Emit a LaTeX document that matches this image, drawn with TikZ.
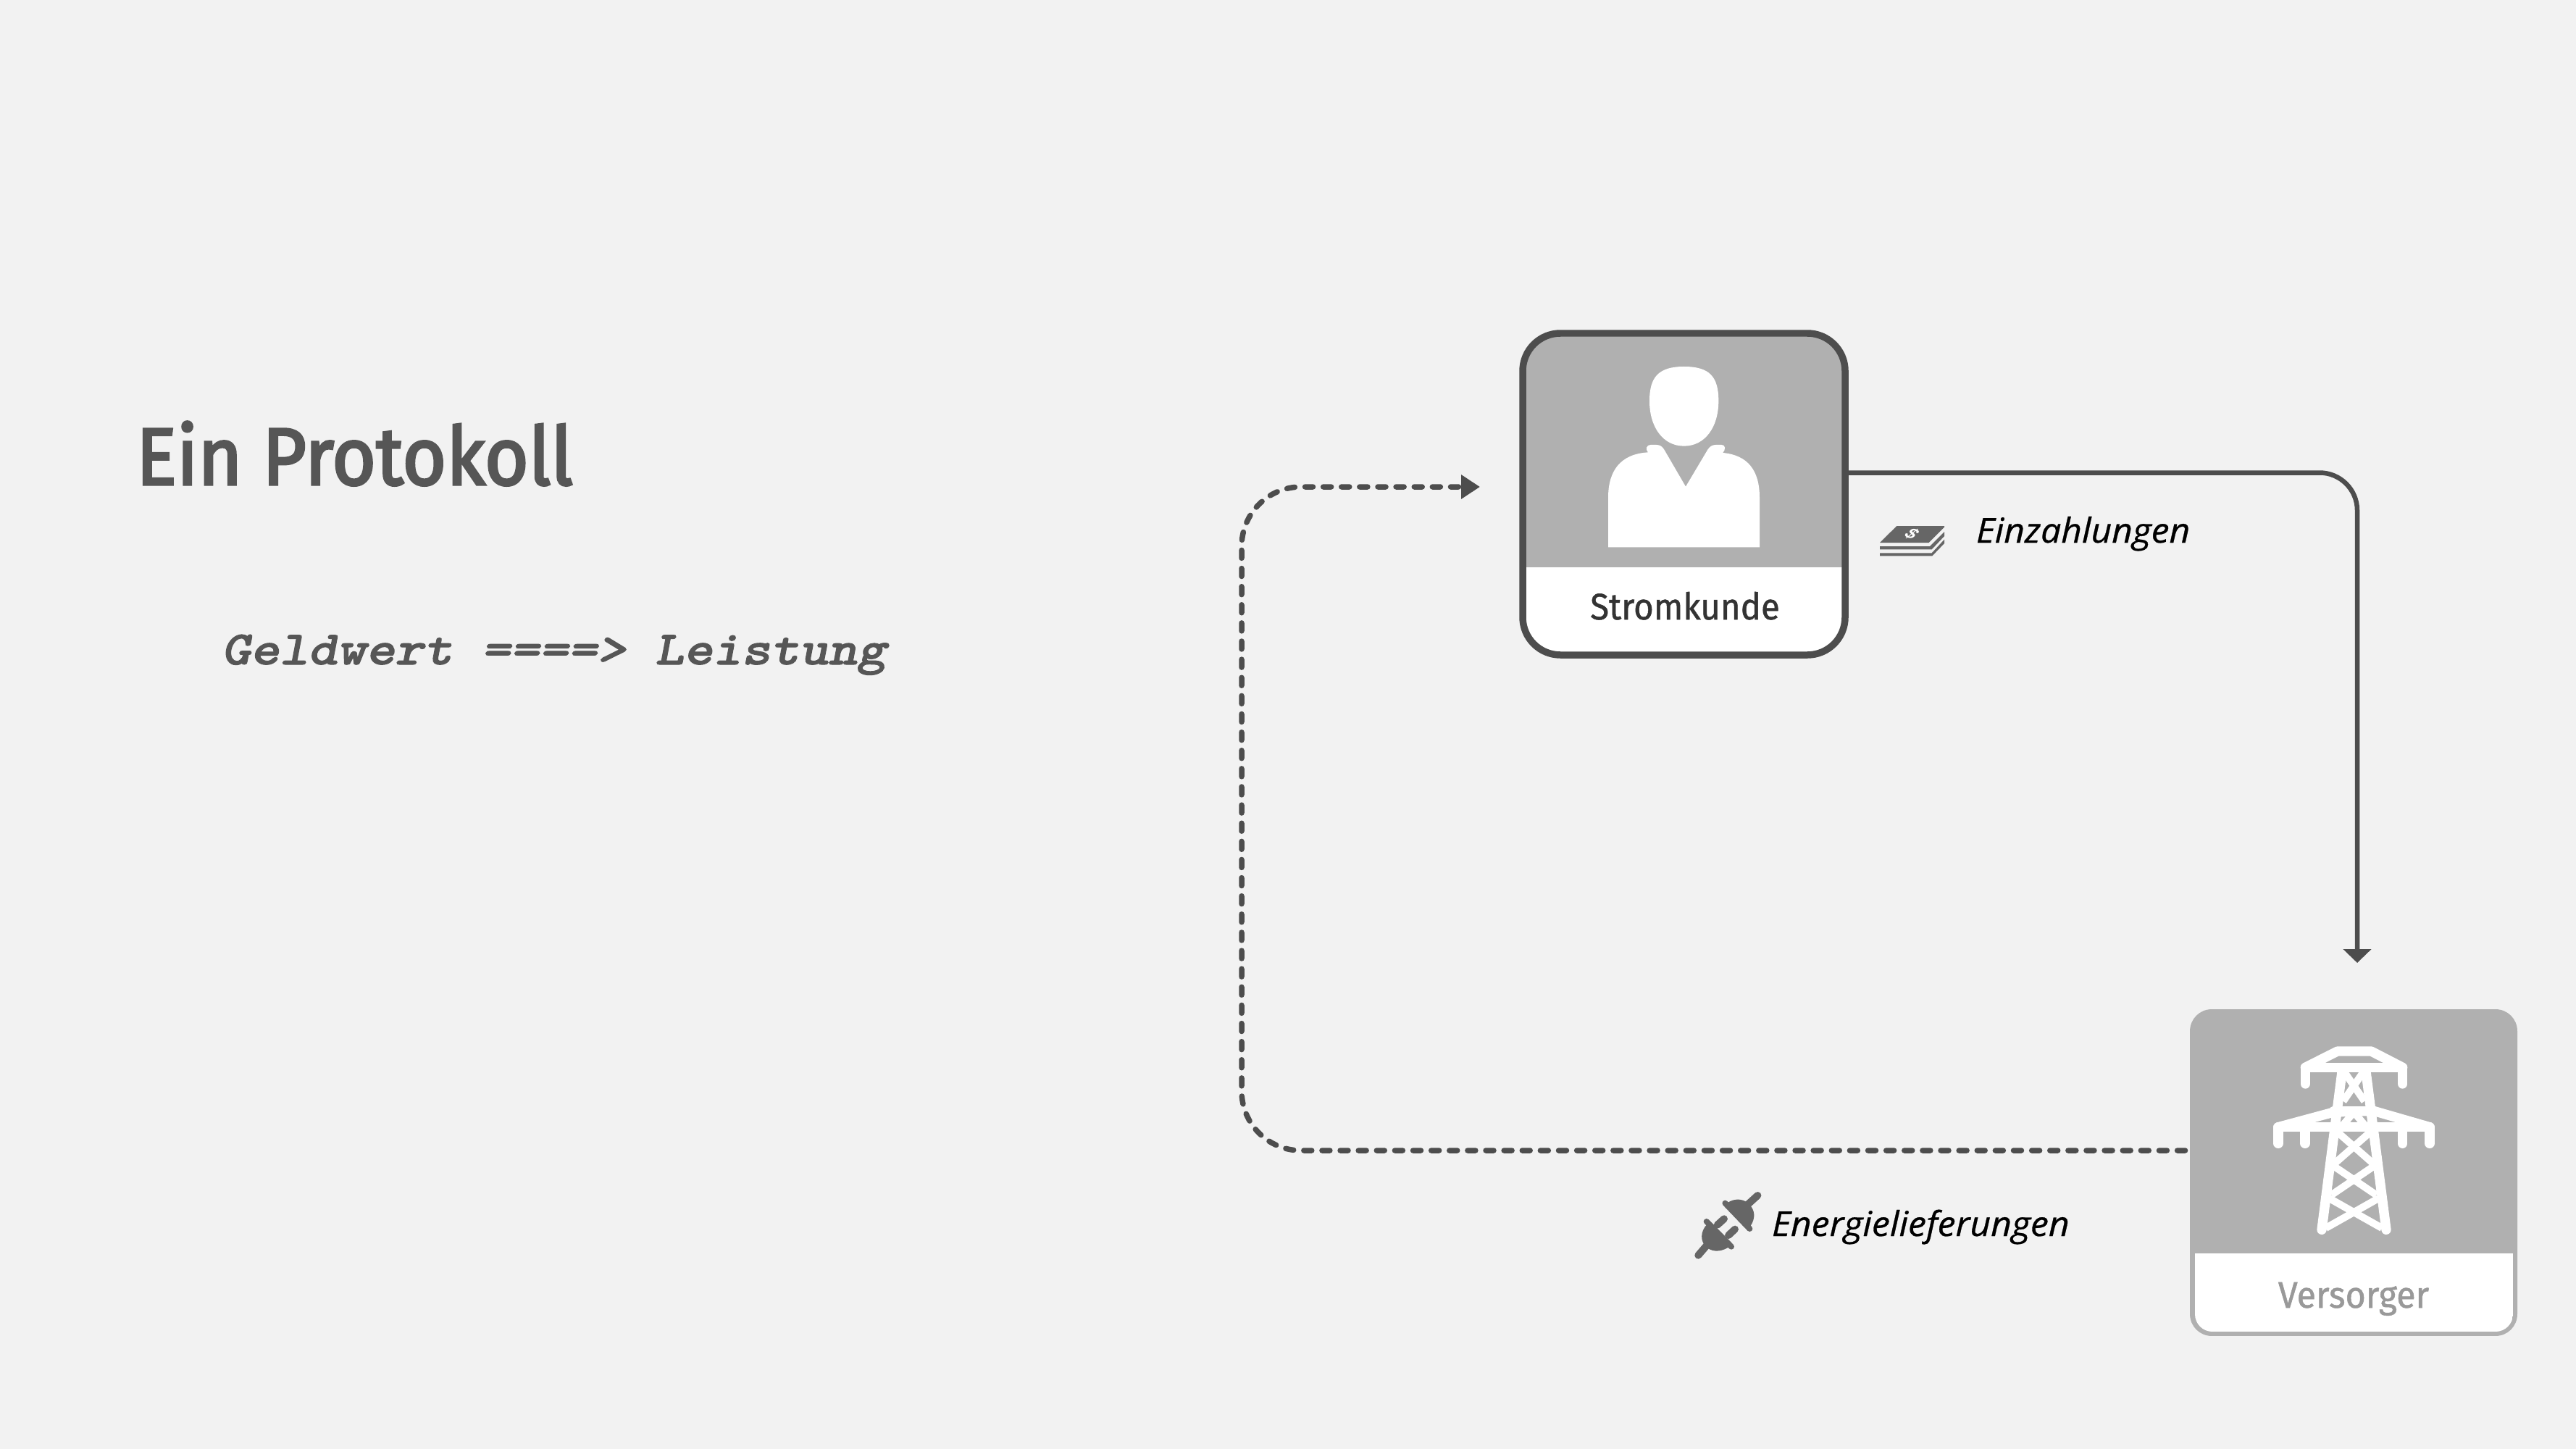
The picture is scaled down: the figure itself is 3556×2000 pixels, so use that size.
\documentclass[tikz,border=0pt]{standalone}
\usepackage{fontspec}
\usepackage{graphicx}
\usetikzlibrary{arrows.meta,calc}
\setmainfont{Fira Sans}
\newfontfamily\firabold[FakeBold=3]{Fira Sans}
\newfontfamily\firatext[FakeBold=1]{Fira Sans}
\newfontfamily\labelfont[FakeBold=0.6]{Open Sans}
\newfontfamily\dollarfont{Liberation Sans}
\newfontfamily\monofake[FakeBold=1.5]{Latin Modern Mono Light}
\definecolor{bg}{HTML}{F2F2F2}
\definecolor{panel}{HTML}{B0B0B0}
\definecolor{ink}{HTML}{4D4D4D}
\definecolor{titleink}{HTML}{565656}
\definecolor{icon}{HTML}{666666}
\tikzset{
  txt/.style={inner sep=0pt,outer sep=0pt,anchor=base west},
  txtc/.style={inner sep=0pt,outer sep=0pt,anchor=base},
  boxshape/.style={inner sep=0pt,outer sep=0pt,rectangle},
  solidconn/.style={draw=ink,line width=.13cm,-{Triangle[length=.38cm,width=.76cm]},rounded corners=1.04cm},
  dashconn/.style={draw=ink,line width=.15cm,line cap=round,dash pattern=on .22cm off .2825cm,-{Triangle[length=.52cm,width=.64cm]},rounded corners=1.64cm},
  iconscope/.style={x=.006667cm,y=-.006667cm},
  pylonmain/.style={draw=white,line width=.2667cm,line cap=round,line join=round},
  pylonbrace/.style={draw=white,line width=.2cm,line cap=butt},
}
\begin{document}
\begin{tikzpicture}[x=.02cm,y=-.02cm]
\useasboundingbox (0,0) rectangle (3556,2000);
\fill[bg] (0,0) rectangle (3556,2000);

% texts left
\node[txt,text=titleink] (title) at (188,669) {\scalebox{.935}[1]{\firabold\fontsize{63.6pt}{70pt}\selectfont Ein Protokoll}};
\node[txt,text=titleink] (formula) at (306,917) {\scalebox{1.15}[1]{\monofake\bfseries\slshape\fontsize{37.6pt}{42pt}\selectfont Geldwert ====> Leistung}};

% Stromkunde
\node[boxshape,fill=white,rounded corners=1.04cm,minimum width=8.9cm,minimum height=8.88cm] (kunde) at (2324.5,682) {};
\begin{scope}
  \clip[rounded corners=1.04cm] (2102,460) rectangle (2547,904);
  \fill[panel] (2102,460) rectangle (2547,783);
\end{scope}
\draw[ink,line width=.19cm,rounded corners=1.04cm] (2102,460) rectangle (2547,904);
\node[txtc,text=black!80] (kundelabel) at (2326,855) {\scalebox{.93}[1]{\firatext\fontsize{29pt}{32pt}\selectfont Stromkunde}};
\begin{scope}[shift={(2060,430)},iconscope]
  \fill[white] (794,228) .. controls (900,228) and (937,270) .. (937,370)
     .. controls (937,480) and (880,557) .. (794,557)
     .. controls (708,557) and (651,480) .. (651,370)
     .. controls (651,270) and (690,228) .. (794,228) -- cycle;
  \fill[white] (480,976) -- (480,770) .. controls (480,660) and (530,590) .. (645,583)
     .. controls (632,570) and (640,552) .. (655,552) -- (680,552)
     .. controls (695,552) and (705,560) .. (712,572) -- (801,725) -- (892,572)
     .. controls (900,560) and (910,552) .. (925,552) -- (950,552)
     .. controls (965,552) and (968,570) .. (955,585)
     .. controls (1060,595) and (1107,660) .. (1107,770) -- (1107,976) -- cycle;
\end{scope}

% Versorger
\node[boxshape,fill=panel,rounded corners=.6cm,minimum width=9.04cm,minimum height=9.02cm] (versorger) at (3249,1618.5) {};
\begin{scope}
  \clip[rounded corners=.48cm] (3030,1650) rectangle (3469,1838);
  \fill[white] (3030,1730) rectangle (3469,1838);
\end{scope}
\node[txtc,text=black!40] (versorgerlabel) at (3249,1805) {\scalebox{.95}[1]{\firatext\fontsize{29pt}{32pt}\selectfont Versorger}};
\begin{scope}[shift={(3000,1370)},iconscope]
  % braces
  \draw[pylonbrace] (706,325) -- (792,450);
  \draw[pylonbrace] (790,325) -- (704,450);
  \draw[pylonbrace] (748,495) -- (696,557);
  \draw[pylonbrace] (748,495) -- (800,557);
  \draw[pylonbrace] (660,560) -- (836,715);
  \draw[pylonbrace] (836,560) -- (660,715);
  \draw[pylonbrace] (655,712) -- (841,838);
  \draw[pylonbrace] (841,712) -- (655,838);
  \draw[pylonbrace] (632,975) -- (850,852);
  \draw[pylonbrace] (864,975) -- (646,852);
  % legs
  \draw[pylonmain] (615,982) -- (700,320);
  \draw[pylonmain] (882,982) -- (797,320);
  % top arm
  \draw[pylonmain] (547,378) -- (547,310) -- (950,310) -- (950,378);
  \draw[pylonmain] (547,310) -- (680,243) -- (820,243) -- (950,310);
  % middle arm
  \draw[pylonmain] (435,625) -- (435,557) -- (1062,557) -- (1062,625);
  \draw[pylonmain] (546,557) -- (546,625);
  \draw[pylonmain] (950,557) -- (950,625);
  \draw[pylonmain] (435,557) -- (665,495) -- (830,490) -- (1062,557);
  \draw[pylonmain] (665,490) -- (830,490);
\end{scope}

% connectors
\coordinate (toVersorger) at (3254,1329);
\coordinate (toKunde) at (2043,672);
\draw[solidconn] ($(kunde.east)+(0,-29.5)$) -- (3254,652.5) -- (toVersorger);
\draw[dashconn] ($(versorger.west)+(-6.5,-30.5)$) -- (1714,1588) -- (1714,672) -- (toKunde);

% money icon
\begin{scope}[shift={(2560,680)},iconscope]
  \fill[icon] (105,207) -- (175,138) -- (372,138) -- (372,143) -- (308,207) -- cycle;
  \fill[icon] (105,222) -- (312,222) -- (372,162) -- (372,180) -- (320,235) -- (105,235) -- cycle;
  \fill[icon] (105,250) -- (320,250) -- (372,194) -- (372,210) -- (322,262) -- (105,262) -- cycle;
  \node[text=white,inner sep=0pt,rotate=-25,xslant=.5] (dollar) at (238,172) {\dollarfont\bfseries\fontsize{13pt}{14pt}\selectfont\$};
\end{scope}
\node[txt,text=black] (einz) at (2728,749) {\scalebox{1.05}[1]{\labelfont\itshape\fontsize{27pt}{30pt}\selectfont Einzahlungen}};

% plug icon
\begin{scope}[shift={(2320,1620)},x=.00714cm,y=-.006667cm,icon,line cap=round]
  \fill[icon] (180,122) .. controls (205,100) and (250,100) .. (272,135) .. controls (292,165) and (285,195) .. (265,225) -- cycle;
  \draw[line width=.16cm] (172,122) -- (267,228);
  \draw[line width=.2cm] (262,125) -- (298,90);
  \fill[icon] (103,208) .. controls (75,240) and (75,280) .. (100,305) .. controls (130,330) and (165,320) .. (192,300) -- cycle;
  \draw[line width=.16cm] (100,198) -- (196,302);
  \draw[line width=.2cm] (100,298) -- (68,338);
  \draw[line width=.2cm] (142,212) -- (168,187);
  \draw[line width=.2cm] (185,255) -- (210,230);
\end{scope}
\node[txt,text=black] (energie) at (2446,1706) {\scalebox{1.055}[1]{\labelfont\itshape\fontsize{27pt}{30pt}\selectfont Energielieferungen}};
\end{tikzpicture}
\end{document}
